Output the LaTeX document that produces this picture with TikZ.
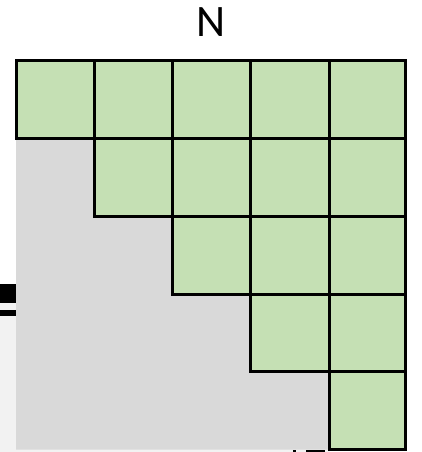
\documentclass[tikz,border=0pt]{standalone}
\usepackage{fontspec}
\setmainfont{Carlito}
\definecolor{cellgreen}{HTML}{C5E0B4}
\definecolor{greyfill}{HTML}{D9D9D9}
\definecolor{palefill}{HTML}{F2F2F2}
\begin{document}
\begin{tikzpicture}[x=1pt,y=-1pt,
  cellbox/.style={fill=cellgreen,draw=black,line width=3pt},
  lbl/.style={font=\fontsize{45}{45}\selectfont,inner sep=0pt,anchor=base}]
\useasboundingbox (0,0) rectangle (421,452);
% pale strip and cut-off marks
\fill[palefill] (0,303) rectangle (16,452);
\fill[palefill] (0,449) rectangle (330,452);
\fill[black] (0,284) rectangle (16,302.7);
\fill[black] (0,309.7) rectangle (16,316);
\fill[black] (293,450) rectangle (296,452);
\fill[black] (306,450) rectangle (325,452);
% grey lower triangle
\fill[greyfill] (16,138) -- (94,138) -- (94,216) -- (172,216) -- (172,294)
  -- (250,294) -- (250,371.5) -- (329.5,371.5) -- (329.5,449.5) -- (16,449.5) -- cycle;
% green cells
\foreach \i in {0,...,4}{
  \foreach \j in {0,...,\i}{
    \pgfmathsetmacro{\xa}{{16,94,172,250,329.5,405}[\i]}
    \pgfmathsetmacro{\xb}{{16,94,172,250,329.5,405}[\i+1]}
    \pgfmathsetmacro{\ya}{{60.5,138,216,294,371.5,449}[\j]}
    \pgfmathsetmacro{\yb}{{60.5,138,216,294,371.5,449}[\j+1]}
    \draw[cellbox] (\xa,\ya) rectangle (\xb,\yb);
  }
}
\node[lbl] (n) at (211,36.7) {N};
\end{tikzpicture}
\end{document}
